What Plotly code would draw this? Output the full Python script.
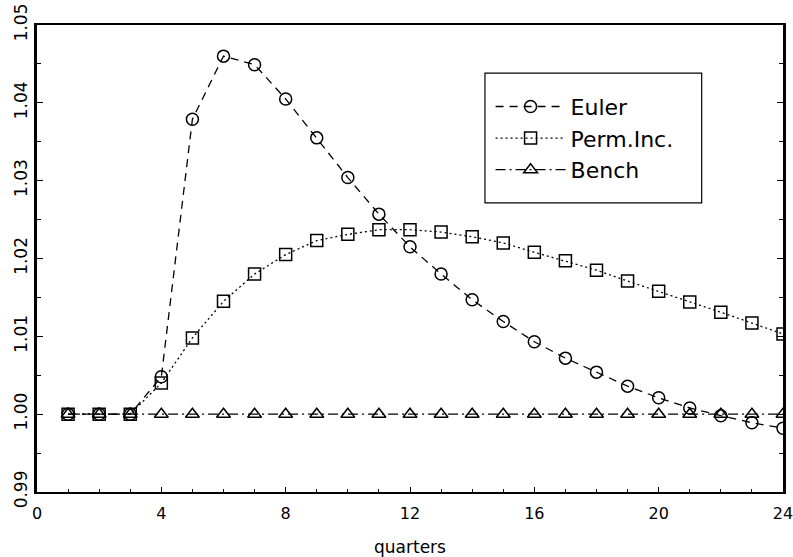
import plotly.graph_objects as go

# Quarters after the shock
quarters = list(range(1, 25))

# Consumption response relative to baseline
euler = [1.0000, 1.0000, 1.0000, 1.0048, 1.0379, 1.0460, 1.0449, 1.0405,
         1.0355, 1.0304, 1.0257, 1.0215, 1.0180, 1.0147, 1.0119, 1.0093,
         1.0072, 1.0054, 1.0036, 1.0021, 1.0008, 0.9998, 0.9989, 0.9982]
perm_inc = [1.0000, 1.0000, 1.0000, 1.0040, 1.0098, 1.0145, 1.0180, 1.0205,
            1.0223, 1.0231, 1.0237, 1.0237, 1.0234, 1.0228, 1.0220, 1.0208,
            1.0197, 1.0185, 1.0171, 1.0158, 1.0144, 1.0131, 1.0117, 1.0103]
bench = [1.0000] * 24

x_ticks = [0, 4, 8, 12, 16, 20, 24]
y_ticks = [0.99, 1.00, 1.01, 1.02, 1.03, 1.04, 1.05]

FONT = "DejaVu Sans"

series = [
    ("Euler", euler, "circle-open", "8px,6px"),
    ("Perm.Inc.", perm_inc, "square-open", "2px,3px"),
    ("Bench", bench, "triangle-up-open", "10px,4px,2px,4px"),
]

fig = go.Figure()
for name, vals, sym, dash in series:
    fig.add_trace(go.Scatter(
        x=quarters, y=vals, name=name, mode="lines+markers",
        line=dict(color="black", width=1.3, dash=dash),
        marker=dict(symbol=sym, size=12, color="black",
                    line=dict(width=1.5, color="black")),
    ))

# Frame around the legend entries
fig.add_shape(
    type="rect", xref="paper", yref="paper",
    x0=0.6005, x1=0.891, y0=0.619, y1=0.897,
    line=dict(color="black", width=1.2), fillcolor="white", layer="below",
)

fig.update_layout(
    width=793, height=557,
    margin=dict(l=37, r=10, t=25, b=65, autoexpand=False),
    paper_bgcolor="white", plot_bgcolor="white",
    font=dict(family=FONT, color="black"),
    showlegend=True,
    legend=dict(
        x=0.608, y=0.87, xanchor="left", yanchor="top",
        bgcolor="rgba(0,0,0,0)", borderwidth=0,
        font=dict(family=FONT, size=22, color="black"),
        itemwidth=70,
    ),
)

fig.update_xaxes(
    range=[0, 24], tickvals=x_ticks, ticktext=[str(v) for v in x_ticks],
    showgrid=False, zeroline=False, automargin=False,
    showline=True, linecolor="black", linewidth=2, mirror=True,
    ticks="inside", ticklen=5, tickwidth=1, tickcolor="black",
    minor=dict(dtick=1, ticks="inside", ticklen=3, tickcolor="black"),
    tickfont=dict(family=FONT, size=16),
    ticklabelstandoff=6, ticklabeloverflow="allow",
    title=dict(text="quarters", font=dict(family=FONT, size=17), standoff=20),
)

fig.update_yaxes(
    range=[0.99, 1.05], tickvals=y_ticks, tickformat=".2f",
    showgrid=False, zeroline=False, automargin=False,
    showline=True, linecolor="black", linewidth=3, mirror="allticks",
    ticks="inside", ticklen=6, tickwidth=1, tickcolor="black",
    minor=dict(dtick=0.005, ticks="inside", ticklen=4, tickcolor="black"),
    tickangle=-90, ticklabeloverflow="allow",
    tickfont=dict(family=FONT, size=17),
)

fig.write_html("out.html")
